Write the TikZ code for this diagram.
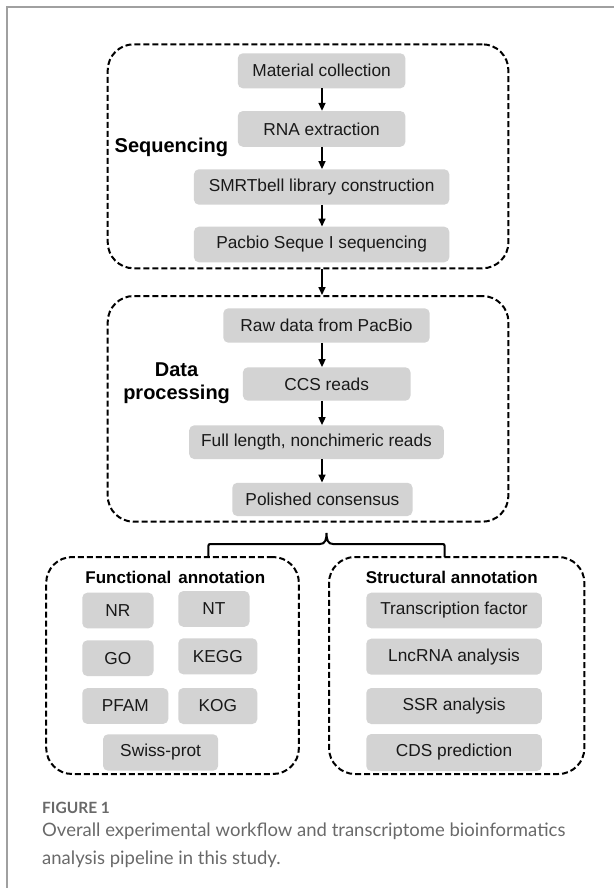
\documentclass[tikz,border=0pt]{standalone}
\usepackage{fontspec}
\setmainfont{Liberation Sans}
\newfontfamily\legende{Lato}
\usetikzlibrary{arrows.meta}
\definecolor{gris}{RGB}{211,211,211}
\definecolor{grislegende}{RGB}{105,105,105}
\definecolor{griscadre}{RGB}{160,160,160}

\begin{document}
\begin{tikzpicture}[x=1pt,y=-1pt,
	boite/.style={fill=gris,rounded corners=5pt,inner sep=0pt,text=black!90,font=\fontsize{17.3}{20}\selectfont},
	cadre/.style={draw,line width=2pt,dash pattern=on 6pt off 3pt,rounded corners=26pt,inner sep=0pt},
	fleche/.style={-{Triangle[length=8pt,width=7pt]},line width=1.6pt},
	titre/.style={font=\bfseries\fontsize{20}{23.3}\selectfont,align=center}]
					\useasboundingbox (0,0) rectangle (614,888);
					%\draw[help lines,step=50] (0,0) grid (614,888);
					
					%PAGE
					\draw[griscadre,line width=1.5pt] (7,888) -- (7,7) -- (614,7);
					
					%SEQUENCAGE
					\node[cadre,minimum width=400.7,minimum height=224] (seqbox) at (308.05,156.3) {};
					\node[titre] (seq) at (171.4,147.7) {Sequencing};
					\node[boite,minimum width=167.6,minimum height=35] (mat) at (321.6,70.8) {Material collection};
					\node[boite,minimum width=167.6,minimum height=35.7] (rna) at (321.6,128.9) {RNA extraction};
					\node[boite,minimum width=255.4,minimum height=35.4] (smrt) at (321.6,187) {SMRTbell library construction};
					\node[boite,minimum width=255.4,minimum height=35.6] (pac) at (321.6,244.5) {Pacbio Seque I sequencing};
					
					%TRAITEMENT
					\node[cadre,minimum width=400.7,minimum height=225.7] (databox) at (308.05,408.85) {};
					\node[titre] (trait) at (176.6,383.3) {Data\\processing};
					\node[boite,minimum width=206.4,minimum height=34.4] (raw) at (326.5,325.5) {Raw data from PacBio};
					\node[boite,minimum width=167.6,minimum height=33.4] (ccs) at (326.7,384) {CCS reads};
					\node[boite,minimum width=254.6,minimum height=33.7] (full) at (316.5,442.2) {Full length, nonchimeric reads};
					\node[boite,minimum width=180.2,minimum height=33.3] (pol) at (322.4,499.4) {Polished consensus};
					
					%FLECHES
					\coordinate (ax) at (322,0);
					\draw[fleche] (ax |- mat.south) -- (ax |- rna.north);
					\draw[fleche] (ax |- rna.south) -- (ax |- smrt.north);
					\draw[fleche] (ax |- smrt.south) -- (ax |- pac.north);
					\draw[fleche] (ax |- seqbox.south) -- (ax |- databox.north);
					\draw[fleche] (ax |- raw.south) -- (ax |- ccs.north);
					\draw[fleche] (ax |- ccs.south) -- (ax |- full.north);
					\draw[fleche] (ax |- full.south) -- (ax |- pol.north);
					
					%ANNOTATION FONCTIONNELLE
					\node[cadre,minimum width=252.7,minimum height=217] (funbox) at (172.55,665.5) {};
					\node[font=\bfseries\fontsize{17}{20}\selectfont] (fon) at (175.3,577.7) {Functional\hspace{7pt}annotation};
					\node[boite,minimum width=71.2,minimum height=35.6] (nr) at (117.9,610.5) {NR};
					\node[boite,minimum width=71.3,minimum height=35.7] (nt) at (213.9,608.9) {NT};
					\node[boite,minimum width=71.2,minimum height=35.7] (go) at (117.9,658.2) {GO};
					\node[boite,minimum width=79.1,minimum height=36] (kegg) at (217.8,656.3) {KEGG};
					\node[boite,minimum width=86.1,minimum height=35.7] (pfam) at (125.3,706) {PFAM};
					\node[boite,minimum width=79.1,minimum height=36] (kog) at (217.8,706) {KOG};
					\node[boite,minimum width=115.2,minimum height=36.4] (swiss) at (160.6,752.5) {Swiss-prot};
					
					%ANNOTATION STRUCTURELLE
					\node[cadre,minimum width=255.4,minimum height=217] (strbox) at (456.7,665.5) {};
					\node[font=\bfseries\fontsize{17}{20}\selectfont] (str) at (451.8,577.7) {Structural annotation};
					\node[boite,minimum width=175.5,minimum height=35.6] (tf) at (454,610.5) {Transcription factor};
					\node[boite,minimum width=175.5,minimum height=36] (lnc) at (454,656.7) {LncRNA analysis};
					\node[boite,minimum width=175.5,minimum height=36] (ssr) at (454,706) {SSR analysis};
					\node[boite,minimum width=175.5,minimum height=37] (cds) at (454,752.5) {CDS prediction};
					
					%ACCOLADE
					\coordinate (bg) at (208.4,557);
					\coordinate (bd) at (444.6,557);
					\coordinate (pointe) at (326.5,533);
					\draw[line width=2pt] (bg) -- (208.4,548) .. controls (208.4,544) .. (212.4,544) -- (320,544)
						.. controls (325,544) and (326.5,540) .. (pointe)
						.. controls (326.5,540) and (328,544) .. (333,544) -- (440.6,544) .. controls (444.6,544) .. (444.6,548) -- (bd);
					
					%LEGENDE
					\node[anchor=base west,inner sep=0pt,text=grislegende,font=\legende\bfseries\fontsize{15.5}{18}\selectfont] (fig) at (42,813) {FIGURE 1};
					\node[anchor=base west,inner sep=0pt,text=grislegende,font=\legende\fontsize{18.5}{27}\selectfont] (leg1) at (42,836) {Overall experimental workflow and transcriptome bioinformatics};
					\node[anchor=base west,inner sep=0pt,text=grislegende,font=\legende\fontsize{18.5}{27}\selectfont] (leg2) at (42,864) {analysis pipeline in this study.};
					
				  \end{tikzpicture}
\end{document}
